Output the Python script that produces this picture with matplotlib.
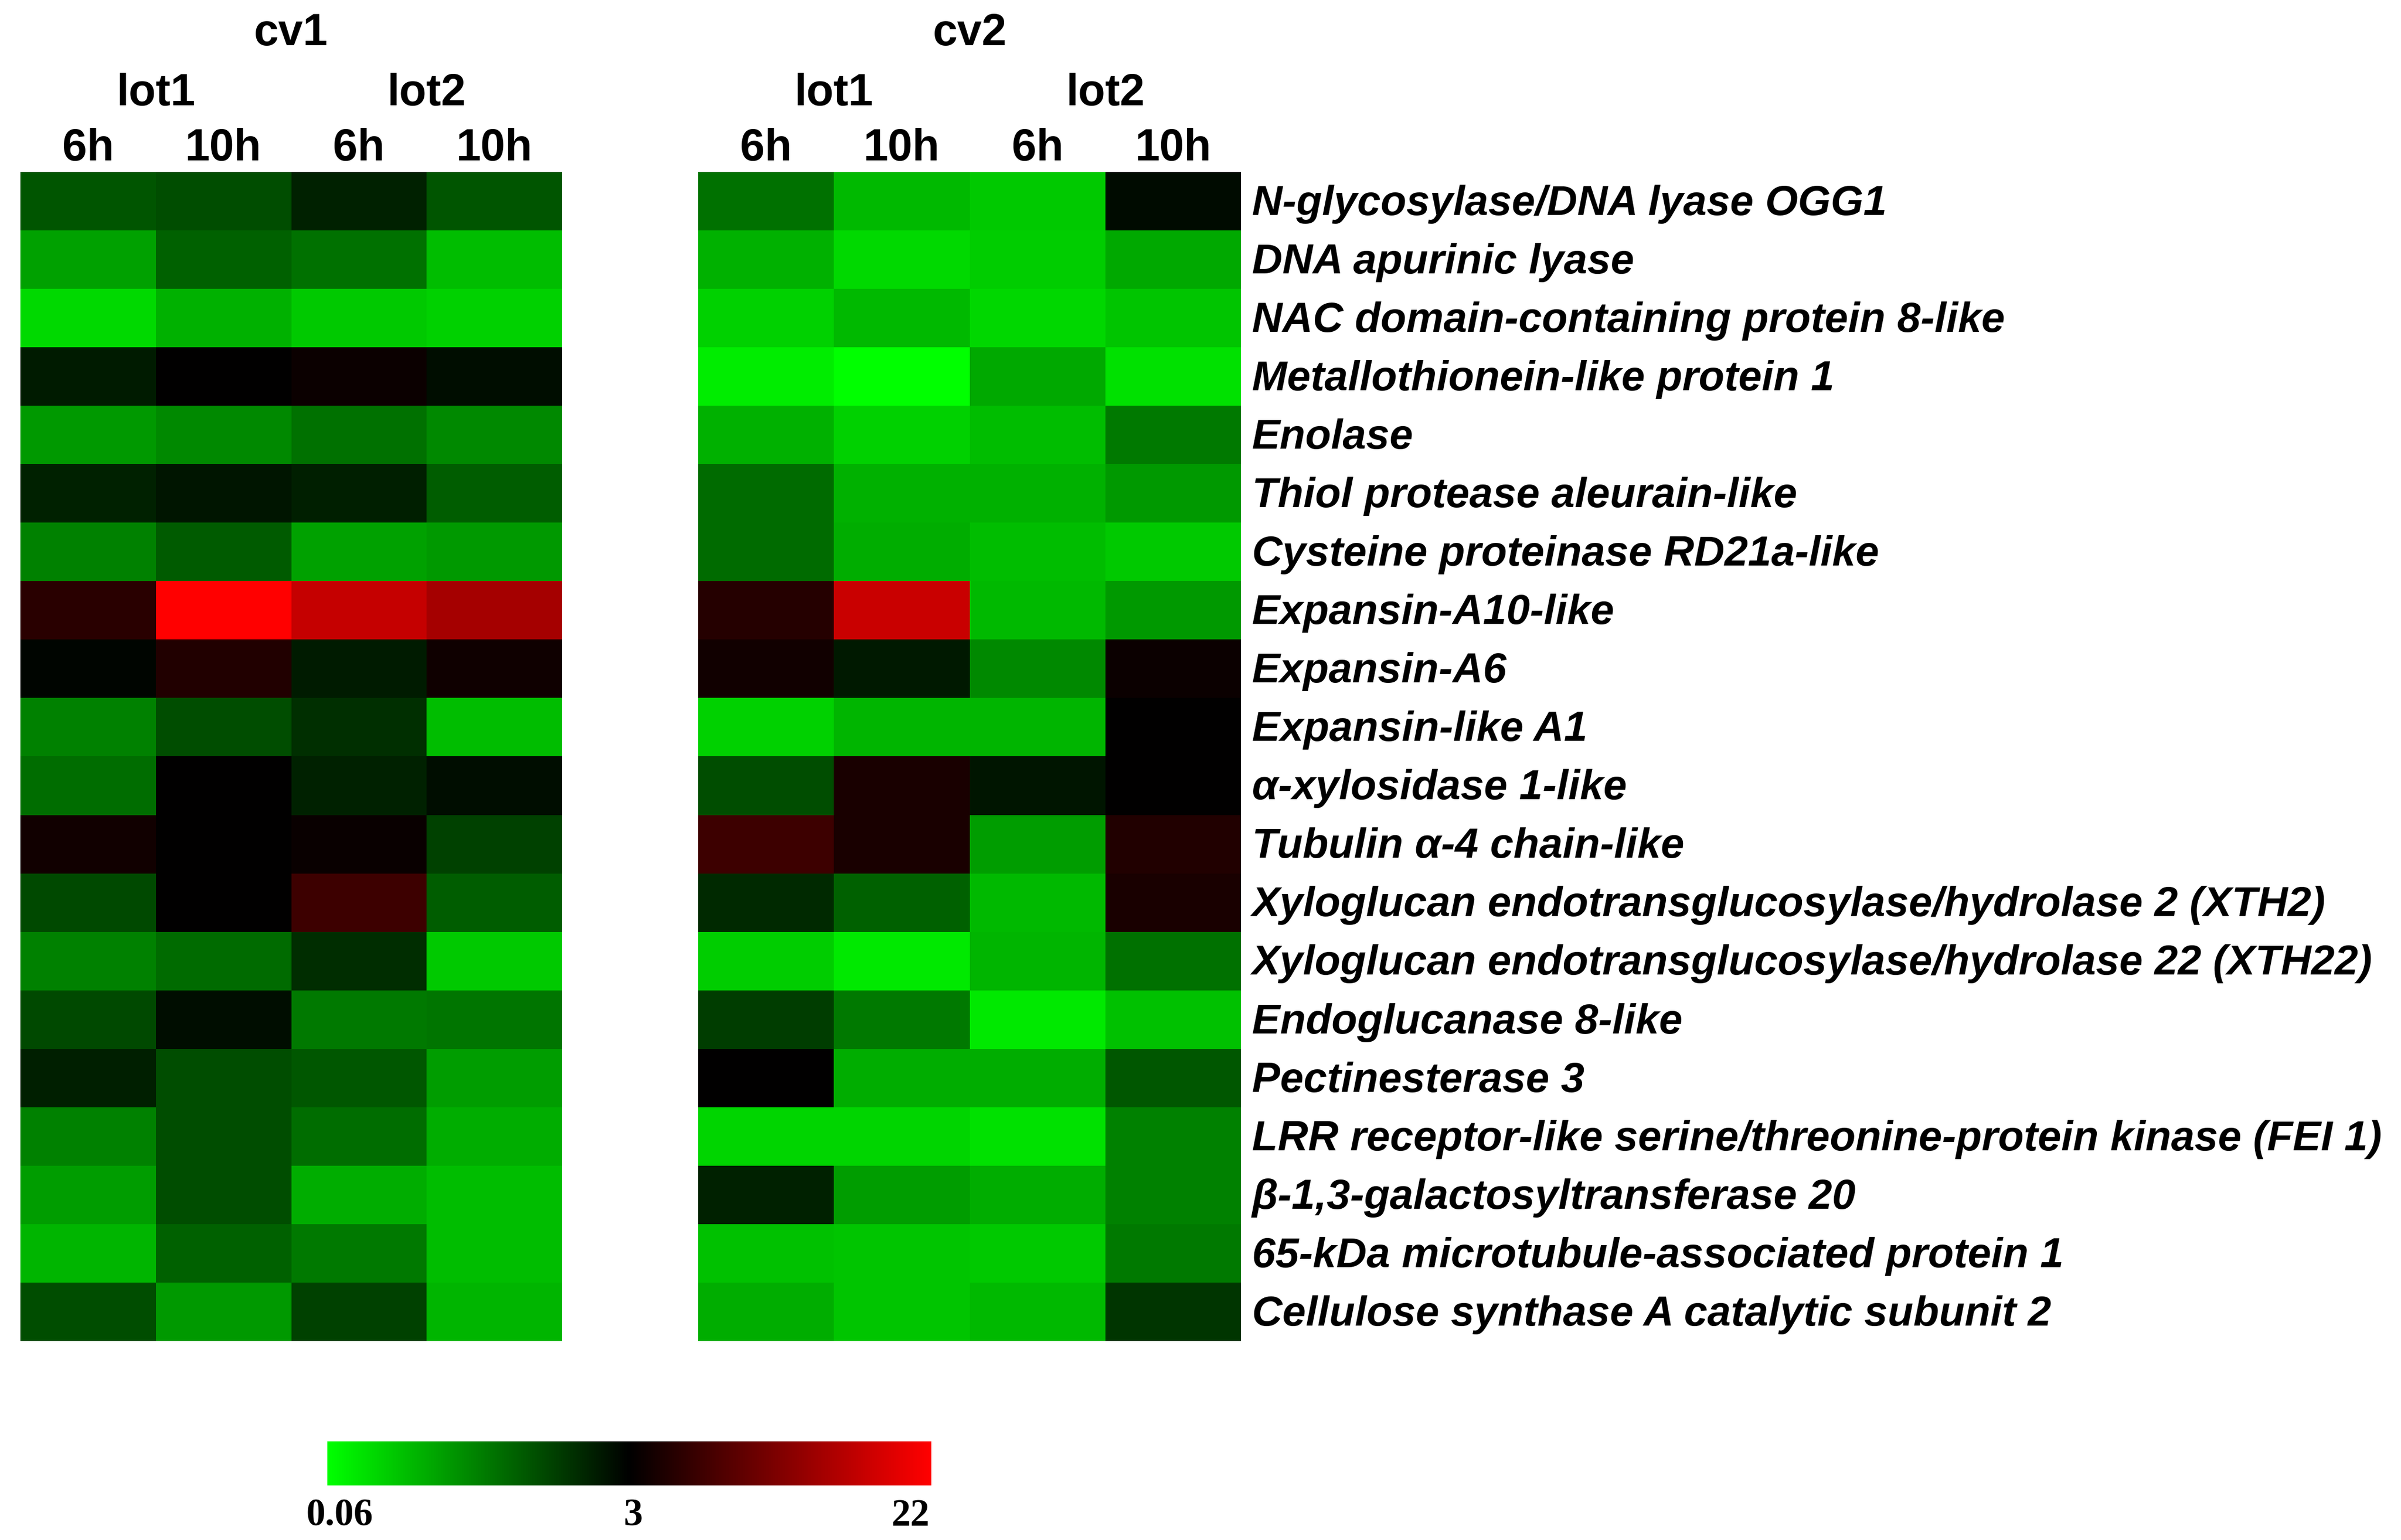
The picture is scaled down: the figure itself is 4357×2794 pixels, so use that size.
import numpy as np
import matplotlib
matplotlib.use("Agg")
import matplotlib.pyplot as plt
from matplotlib.colors import LinearSegmentedColormap, TwoSlopeNorm

genes = [
    "N-glycosylase/DNA lyase OGG1",
    "DNA apurinic lyase",
    "NAC domain-containing protein 8-like",
    "Metallothionein-like protein 1",
    "Enolase",
    "Thiol protease aleurain-like",
    "Cysteine proteinase RD21a-like",
    "Expansin-A10-like",
    "Expansin-A6",
    "Expansin-like A1",
    "α-xylosidase 1-like",
    "Tubulin α-4 chain-like",
    "Xyloglucan endotransglucosylase/hydrolase 2 (XTH2)",
    "Xyloglucan endotransglucosylase/hydrolase 22 (XTH22)",
    "Endoglucanase 8-like",
    "Pectinesterase 3",
    "LRR receptor-like serine/threonine-protein kinase (FEI 1)",
    "β-1,3-galactosyltransferase 20",
    "65-kDa microtubule-associated protein 1",
    "Cellulose synthase A catalytic subunit 2",
]
cultivars = ["cv1", "cv2"]
lots = ["lot1", "lot2"]
times = ["6h", "10h", "6h", "10h"]

# columns: lot1 6h, lot1 10h, lot2 6h, lot2 10h
cv1_values = [
    [2.02, 2.11, 2.61, 2.02],
    [1.16, 1.89, 1.71, 0.84],
    [0.51, 0.97, 0.69, 0.60],
    [2.70, 3.00, 3.89, 2.86],
    [1.25, 1.43, 1.71, 1.43],
    [2.61, 2.77, 2.65, 1.94],
    [1.52, 1.96, 1.16, 1.25],
    [5.98, 22.00, 17.60, 15.22],
    [2.95, 5.38, 2.70, 4.04],
    [1.52, 2.12, 2.45, 0.83],
    [1.75, 3.05, 2.63, 2.86],
    [4.19, 3.00, 3.60, 2.26],
    [2.17, 3.00, 7.47, 1.94],
    [1.52, 1.78, 2.49, 0.69],
    [2.17, 2.84, 1.62, 1.66],
    [2.65, 2.12, 1.99, 1.20],
    [1.52, 2.12, 1.75, 1.02],
    [1.20, 2.12, 1.02, 0.83],
    [0.92, 1.89, 1.62, 0.83],
    [2.12, 1.25, 2.26, 0.92],
]
cv2_values = [
    [1.71, 0.88, 0.69, 2.88],
    [0.97, 0.51, 0.65, 1.06],
    [0.60, 0.88, 0.54, 0.74],
    [0.28, 0.06, 1.06, 0.42],
    [0.97, 0.60, 0.83, 1.62],
    [1.78, 0.97, 0.97, 1.25],
    [1.78, 1.02, 0.83, 0.69],
    [5.68, 17.90, 0.88, 1.25],
    [4.19, 2.72, 1.43, 3.89],
    [0.60, 0.92, 0.92, 3.00],
    [2.12, 4.79, 2.75, 3.00],
    [7.47, 4.79, 1.20, 5.38],
    [2.52, 1.89, 0.88, 4.79],
    [0.65, 0.33, 0.92, 1.71],
    [2.31, 1.62, 0.33, 0.79],
    [3.00, 1.02, 1.02, 1.99],
    [0.56, 0.56, 0.42, 1.52],
    [2.63, 1.20, 1.02, 1.52],
    [0.79, 0.74, 0.69, 1.62],
    [1.02, 0.74, 0.88, 2.40],
]
cbar_ticks = [0.06, 3, 22]
cbar_labels = ["0.06", "3", "22"]

W, H = 4357, 2794
DPI = 200
fig = plt.figure(figsize=(W / DPI, H / DPI), dpi=DPI)
fig.patch.set_facecolor("white")

cmap = LinearSegmentedColormap.from_list("gbr", [(0, 1, 0), (0, 0, 0), (1, 0, 0)])
norm = TwoSlopeNorm(vmin=0.06, vcenter=3, vmax=22)

def px_rect(x0, y0, x1, y1):
    return [x0 / W, 1 - y1 / H, (x1 - x0) / W, (y1 - y0) / H]

hm_top, hm_bot = 312, 2433
blocks = [(37, 1020), (1267, 2252)]
sans = "Liberation Sans"

im = None
for (x0, x1), data, cv in zip(blocks, [cv1_values, cv2_values], cultivars):
    ax = fig.add_axes(px_rect(x0, hm_top, x1, hm_bot))
    arr = np.array(data)
    im = ax.pcolormesh(np.arange(arr.shape[1] + 1), np.arange(arr.shape[0] + 1), arr,
                       cmap=cmap, norm=norm, edgecolors="none", antialiased=False)
    ax.set_xlim(0, arr.shape[1])
    ax.set_ylim(arr.shape[0], 0)
    ax.set_xticks([])
    ax.set_yticks([])
    for s in ax.spines.values():
        s.set_visible(False)
    # headers
    ax.text(2, -2.37, cv, ha="center", va="center", fontsize=29, fontweight="bold",
            family=sans, clip_on=False)
    for i, lot in enumerate(lots):
        ax.text(2 * i + 1, -1.34, lot, ha="center", va="center", fontsize=29,
                fontweight="bold", family=sans, clip_on=False)
    for j, t in enumerate(times):
        ax.text(j + 0.5, -0.40, t, ha="center", va="center", fontsize=29,
                fontweight="bold", family=sans, clip_on=False)
    last_ax = ax

# row labels next to cv2 block
for i, g in enumerate(genes):
    last_ax.text(4.08, i + 0.55, g, ha="left", va="center", fontsize=27.5,
                 fontweight="bold", fontstyle="italic", family=sans, clip_on=False)

# colorbar
cax = fig.add_axes(px_rect(594, 2615, 1690, 2695))
cb = fig.colorbar(im, cax=cax, orientation="horizontal")
cb.outline.set_visible(False)
cb.set_ticks(cbar_ticks)
cax.tick_params(length=0, labelbottom=False)
offsets = [22, 6, -38]
for v, lab, dx in zip(cbar_ticks, cbar_labels, offsets):
    cax.annotate(lab, xy=(float(norm(v)), 0), xycoords="axes fraction",
                 xytext=(dx, -24), textcoords="offset pixels", ha="center", va="top",
                 fontsize=25, fontweight="bold", family="Liberation Serif",
                 annotation_clip=False)

fig.savefig("out.png", dpi=DPI, facecolor="white")
